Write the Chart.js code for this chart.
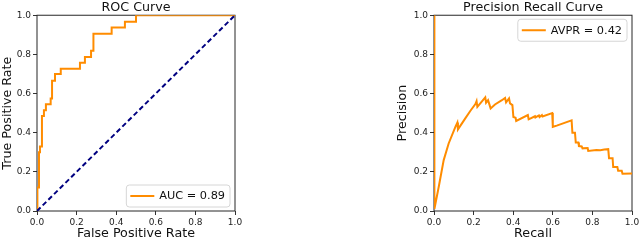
<!DOCTYPE html>
<html>
<head>
<meta charset="utf-8">
<script src="https://cdn.jsdelivr.net/npm/chart.js@4"></script>
<style>
  html, body { margin: 0; padding: 0; background: #fff; overflow: hidden; width: 640px; height: 240px; }
  canvas { position: absolute; top: 0; }
  #rocChart { left: 0; }
  #prChart { left: 380px; }
</style>
</head>
<body>
<canvas id="rocChart" width="250" height="240"></canvas>
<canvas id="prChart" width="280" height="240"></canvas>
<script>
// ROC curve corner points
const fpr = [0, 0.002, 0.002, 0.01, 0.01, 0.015, 0.015, 0.025, 0.025, 0.035, 0.035, 0.045, 0.045, 0.069, 0.069,
    0.076, 0.076, 0.091, 0.091, 0.12, 0.12, 0.217, 0.217, 0.242, 0.242, 0.273, 0.273, 0.285, 0.285,
    0.377, 0.377, 0.444, 0.444, 0.5, 0.5, 1];
const tpr = [0, 0, 0.12, 0.12, 0.30, 0.30, 0.33, 0.33, 0.485, 0.485, 0.515, 0.515, 0.545, 0.545, 0.575,
    0.575, 0.665, 0.665, 0.70, 0.70, 0.727, 0.727, 0.757, 0.757, 0.787, 0.787, 0.818, 0.818, 0.906,
    0.906, 0.937, 0.937, 0.967, 0.967, 1, 1];
const chance = [0, 1];
const aucLabel = 'AUC = 0.89';

// precision / recall points
const recall = [0, 0.002, 0.024, 0.049, 0.074, 0.108, 0.118, 0.121, 0.158, 0.184, 0.209, 0.215, 0.219,
    0.259, 0.263, 0.273, 0.286, 0.308, 0.343, 0.359, 0.364, 0.379, 0.384, 0.396, 0.401, 0.412, 0.415,
    0.474, 0.478, 0.51, 0.512, 0.53, 0.533, 0.545, 0.548, 0.597, 0.6, 0.62, 0.695, 0.699, 0.712,
    0.716, 0.729, 0.732, 0.746, 0.75, 0.776, 0.779, 0.82, 0.84, 0.86, 0.88, 0.884, 0.902, 0.905,
    0.926, 0.93, 0.948, 0.952, 1];
const precision = [1, 0.01, 0.124, 0.26, 0.345, 0.43, 0.452, 0.417, 0.473, 0.512, 0.546, 0.561, 0.532,
    0.58, 0.553, 0.566, 0.524, 0.544, 0.566, 0.578, 0.555, 0.575, 0.55, 0.541, 0.48, 0.476, 0.46,
    0.49, 0.468, 0.484, 0.478, 0.488, 0.48, 0.49, 0.483, 0.50, 0.43, 0.436, 0.463, 0.40, 0.40,
    0.35, 0.35, 0.332, 0.33, 0.32, 0.322, 0.307, 0.312, 0.31, 0.314, 0.316, 0.27, 0.27, 0.225,
    0.225, 0.206, 0.206, 0.19, 0.192];
const avprLabel = 'AVPR = 0.42';

const ticks01 = [0, 0.2, 0.4, 0.6, 0.8, 1.0];

const orange = '#FF8C00';
const navy = '#000080';
const font = '"DejaVu Sans", sans-serif';

Chart.defaults.font.family = font;
Chart.defaults.color = '#222';

// axes frame on all four sides, like matplotlib spines
const framePlugin = {
    id: 'frame',
    beforeDatasetsDraw(chart) {
        const { ctx, chartArea: a } = chart;
        ctx.save();
        ctx.strokeStyle = '#262626';
        ctx.lineWidth = 1;
        ctx.strokeRect(a.left, a.top, a.right - a.left, a.bottom - a.top);
        ctx.restore();
    }
};

// legend box drawn inside the plot area
const boxLegend = {
    id: 'boxLegend',
    afterDraw(chart, args, opts) {
        const ds = chart.data.datasets.find(d => d.label);
        const { ctx, chartArea: a } = chart;
        ctx.save();
        ctx.font = '11.3px ' + font;
        const tw = ctx.measureText(ds.label).width;
        const w = tw + 38, h = 22;
        const x = a.right - 5 - w;
        const y = opts.corner === 'lower right' ? a.bottom - 4 - h : a.top + 4;
        ctx.beginPath();
        ctx.roundRect(x, y, w, h, 3);
        ctx.fillStyle = 'rgba(255,255,255,0.85)';
        ctx.fill();
        ctx.strokeStyle = '#d6d6d6';
        ctx.lineWidth = 1;
        ctx.stroke();
        ctx.strokeStyle = ds.borderColor;
        ctx.lineWidth = 2;
        ctx.beginPath();
        ctx.moveTo(x + 4, y + h / 2);
        ctx.lineTo(x + 28, y + h / 2);
        ctx.stroke();
        ctx.fillStyle = '#111';
        ctx.textBaseline = 'middle';
        ctx.fillText(ds.label, x + 33, y + h / 2 + 0.5);
        ctx.restore();
    }
};

function axes(xTitle, yTitle, yWidth, yTitlePad) {
    const tickCfg = {
        font: { size: 9 },
        color: '#222',
        padding: 2,
        callback: v => v.toFixed(1)
    };
    const gridCfg = { drawOnChartArea: false, drawTicks: true, tickLength: 4, color: '#333' };
    return {
        x: {
            type: 'linear', min: 0, max: 1,
            afterBuildTicks: s => { s.ticks = ticks01.map(v => ({ value: v })); },
            ticks: tickCfg,
            grid: gridCfg,
            border: { display: false },
            title: { display: true, text: xTitle, font: { size: 12.7, lineHeight: 1.0 }, color: '#111', padding: 0 },
            afterFit: s => { s.height = 29; }
        },
        y: {
            type: 'linear', min: 0, max: 1,
            afterBuildTicks: s => { s.ticks = ticks01.map(v => ({ value: v })); },
            ticks: tickCfg,
            grid: gridCfg,
            border: { display: false },
            title: { display: true, text: yTitle, font: { size: 12.7, lineHeight: 1.0 }, color: '#111', padding: { top: yTitlePad, bottom: 0 } },
            afterFit: s => { s.width = yWidth; }
        }
    };
}

function titleCfg(text) {
    return { display: true, text: text, fullSize: false, color: '#111', font: { size: 12.7, weight: 'normal', lineHeight: 1.2 }, padding: 0 };
}

new Chart(document.getElementById('rocChart').getContext('2d'), {
    type: 'line',
    data: {
        datasets: [{
            label: '',
            data: chance.map(v => ({ x: v, y: v })),
            borderColor: navy,
            borderWidth: 2,
            borderDash: [5, 3],
            pointRadius: 0
        }, {
            label: aucLabel,
            data: fpr.map((v, i) => ({ x: v, y: tpr[i] })),
            borderColor: orange,
            borderWidth: 2,
            pointRadius: 0
        }]
    },
    options: {
        responsive: false,
        animation: false,
        layout: { padding: { left: 0, right: 15, top: 0, bottom: 0 } },
        scales: axes('False Positive Rate', 'True Positive Rate', 37, 1.5),
        plugins: {
            legend: { display: false },
            tooltip: { enabled: false },
            title: titleCfg('ROC Curve'),
            boxLegend: { corner: 'lower right' }
        }
    },
    plugins: [framePlugin, boxLegend]
});

new Chart(document.getElementById('prChart').getContext('2d'), {
    type: 'line',
    data: {
        datasets: [{
            label: avprLabel,
            data: recall.map((v, i) => ({ x: v, y: precision[i] })),
            borderColor: orange,
            borderWidth: 2,
            pointRadius: 0
        }]
    },
    options: {
        responsive: false,
        animation: false,
        layout: { padding: { left: 0, right: 28, top: 0, bottom: 0 } },
        scales: axes('Recall', 'Precision', 54, 16.5),
        plugins: {
            legend: { display: false },
            tooltip: { enabled: false },
            title: titleCfg('Precision Recall Curve'),
            boxLegend: { corner: 'upper right' }
        }
    },
    plugins: [framePlugin, boxLegend]
});
</script>
</body>
</html>
